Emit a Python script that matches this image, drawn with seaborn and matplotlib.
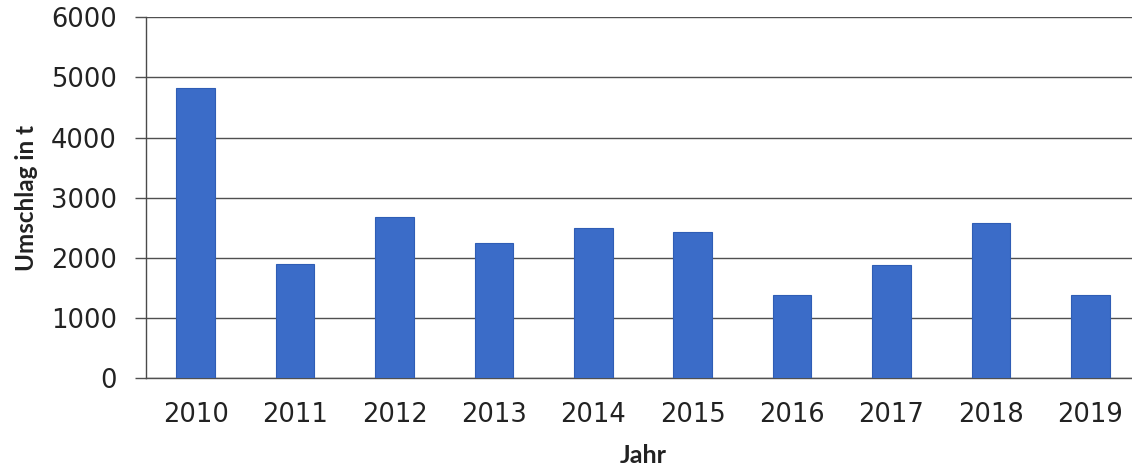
import numpy as np
import pandas as pd
import matplotlib
matplotlib.use("Agg")
import matplotlib.pyplot as plt
import seaborn as sns

# data
years = ["2010", "2011", "2012", "2013", "2014", "2015", "2016", "2017", "2018", "2019"]
umschlag = [4820, 1900, 2680, 2250, 2500, 2425, 1375, 1885, 2575, 1375]

df = pd.DataFrame({"Jahr": years, "Umschlag": umschlag})

sns.set_style("white")
plt.rcParams["font.family"] = ["DejaVu Sans"]

fig = plt.figure(figsize=(11.32, 4.66), dpi=100)
ax = fig.add_axes([146 / 1132, 88 / 466, 994 / 1132, 360.7 / 466])

sns.barplot(data=df, x="Jahr", y="Umschlag", color="#3b6cc8", saturation=1,
            width=0.39, edgecolor="#2f5db5", linewidth=0.8, ax=ax, zorder=3)

ax.set_ylim(0, 6000)
ax.set_yticks(np.arange(0, 6001, 1000))
ax.set_xlim(-0.5, len(years) - 0.5)
ax.yaxis.grid(True, color="#505050", linewidth=1.0, zorder=0)
ax.set_axisbelow(True)

for s in ["top", "right"]:
    ax.spines[s].set_visible(False)
ax.spines["left"].set_color("#4a4a4a")
ax.spines["bottom"].set_color("#505050")
ax.spines["left"].set_linewidth(1.0)
ax.spines["bottom"].set_linewidth(1.0)

# tick marks between the categories
ax.set_xticks(np.arange(len(years) + 1) - 0.5, minor=True)
ax.tick_params(axis="x", which="major", length=0, labelsize=18.5, pad=17, colors="#222222")
ax.tick_params(axis="x", which="minor", length=7, width=1.0, color="#4a4a4a", direction="out")
ax.tick_params(axis="y", which="major", length=8, width=1.0, color="#505050",
               labelsize=18.5, pad=13, labelcolor="#222222", left=True)

ax.set_xlabel("Jahr", fontsize=18, fontweight="bold", family=["Lato", "DejaVu Sans"],
              labelpad=12, color="#222222")
ax.set_ylabel("Umschlag in t", fontsize=17.5, fontweight="bold", family=["Lato", "DejaVu Sans"],
              labelpad=9, color="#222222")

fig.savefig("out.png", dpi=100)
